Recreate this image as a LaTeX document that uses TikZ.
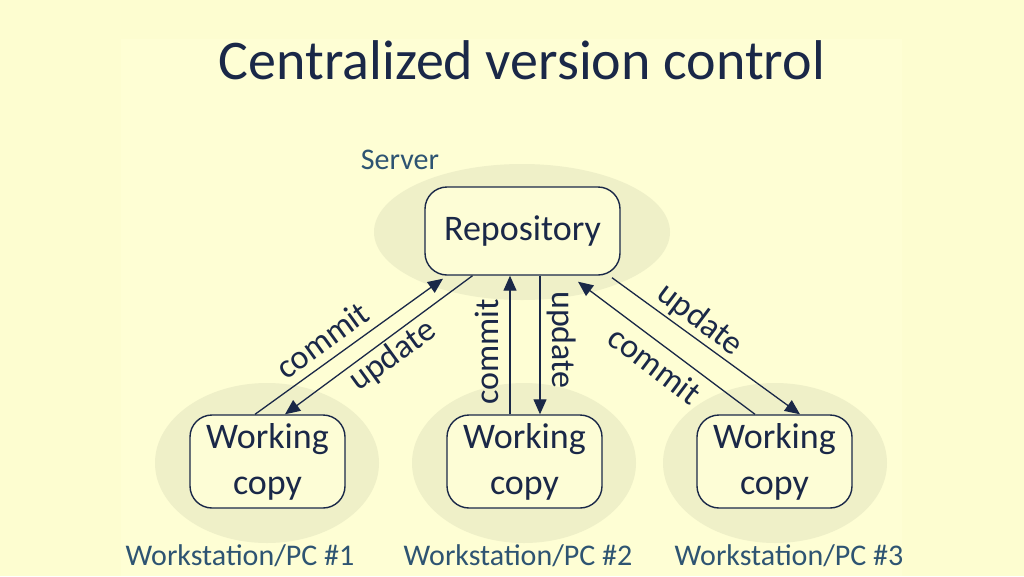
\documentclass[tikz,border=0pt]{standalone}
\usepackage{fontspec}
\setmainfont{Carlito}
\usetikzlibrary{arrows.meta}
\definecolor{bgc}{HTML}{FDFDD0}
\definecolor{innerc}{HTML}{FEFED4}
\definecolor{haloc}{HTML}{EFF0C8}
\definecolor{navy}{HTML}{1A2848}
\definecolor{tealc}{HTML}{2E5472}
\definecolor{boxc}{HTML}{FDFDD6}
\tikzset{
  halo/.style={fill=haloc},
  box/.style={draw=navy, line width=1.4pt, fill=boxc, rounded corners=22pt, text=navy, align=center},
  conn/.style={draw=navy, line width=1.3pt, -{Triangle[length=15pt,width=13pt]}},
  lbl/.style={text=navy, font=\fontsize{34}{40}\selectfont, inner sep=0pt},
  place/.style={text=tealc, font=\fontsize{30}{34}\selectfont, inner sep=0pt},
}
\begin{document}
\begin{tikzpicture}[x=1pt,y=-1pt]
\useasboundingbox (0,0) rectangle (1024,576);
\fill[bgc] (0,0) rectangle (1024,576);
\fill[innerc] (121,39) rectangle (902,576);
% halos
\fill[halo] (522,232) ellipse [x radius=148pt, y radius=68pt];
\fill[halo] (267,463) ellipse [x radius=112pt, y radius=80pt];
\fill[halo] (524,463) ellipse [x radius=112pt, y radius=80pt];
\fill[halo] (775,463) ellipse [x radius=112pt, y radius=80pt];
% title
\node[text=navy, font=\fontsize{56}{60}\selectfont, inner sep=0pt] (title) at (522,60) {Centralized version control};
% nodes
\node[box, minimum width=195pt, minimum height=88pt, font=\fontsize{36}{42}\selectfont] (repo) at (522.5,231) {Repository};
\node[box, minimum width=155pt, minimum height=93pt, font=\fontsize{36}{46}\selectfont] (wc1) at (267.5,461.5) {Working\\copy};
\node[box, minimum width=155pt, minimum height=93pt, font=\fontsize{36}{46}\selectfont] (wc2) at (524.5,461.5) {Working\\copy};
\node[box, minimum width=155pt, minimum height=93pt, font=\fontsize{36}{46}\selectfont] (wc3) at (774.5,461.5) {Working\\copy};
% place labels
\node[place] (server) at (400,160) {Server};
\node[place] (ws1) at (240,556) {Workstation/PC \#1};
\node[place] (ws2) at (518,556) {Workstation/PC \#2};
\node[place] (ws3) at (789,556) {Workstation/PC \#3};
% connectors
\draw[conn] ([xshift=-12.5pt]wc1.north) -- ([xshift=-79.5pt,yshift=-3pt]repo.south);
\draw[conn] ([xshift=-50pt]repo.south) -- ([xshift=17.5pt]wc1.north);
\draw[conn] ([xshift=-14.5pt]wc2.north) -- ([xshift=-12.5pt]repo.south);
\draw[conn] ([xshift=17.5pt]repo.south) -- ([xshift=15.5pt]wc2.north);
\draw[conn] ([xshift=-19.5pt]wc3.north) -- ([xshift=55.5pt,yshift=-6pt]repo.south);
\draw[conn] ([xshift=89.5pt,yshift=-2pt]repo.south) -- ([xshift=25.5pt]wc3.north);
% connector labels
\node[lbl, rotate=36] (lc) at (322,340) {commit};
\node[lbl, rotate=36] (lu) at (393,356) {update};
\node[lbl, rotate=90] (mc) at (487,352) {commit};
\node[lbl, rotate=-90] (mu) at (562,340) {update};
\node[lbl, rotate=-37] (ru) at (700,320) {update};
\node[lbl, rotate=-37] (rc) at (655,365) {commit};
\end{tikzpicture}
\end{document}
